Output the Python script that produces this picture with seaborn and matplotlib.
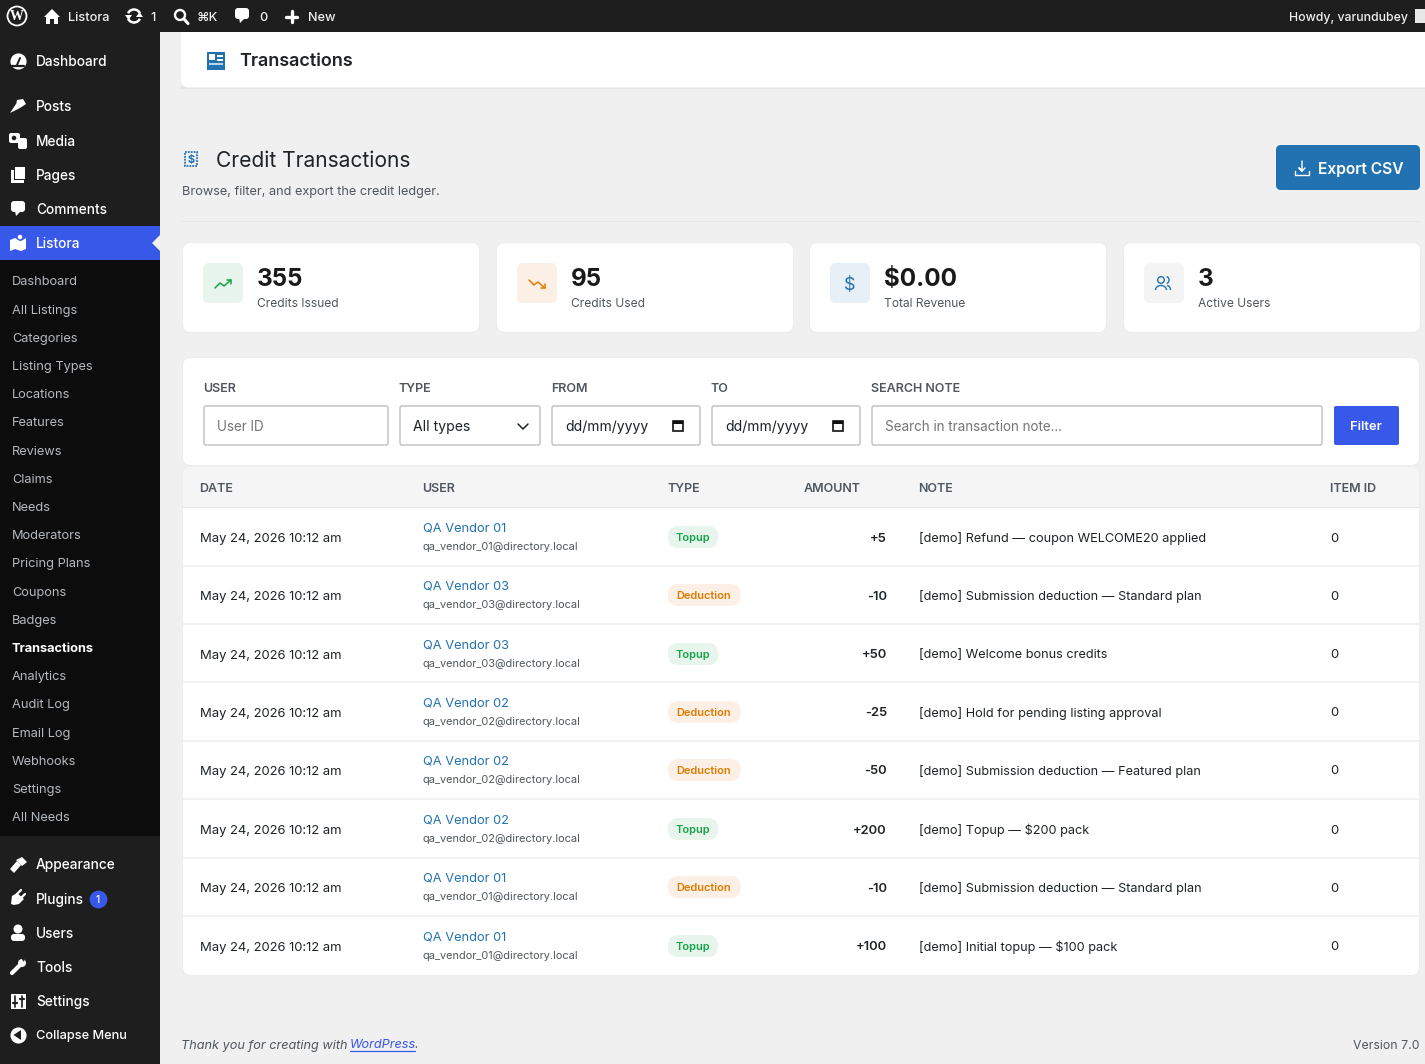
import matplotlib.pyplot as plt
import seaborn as sns
import pandas as pd
from matplotlib.patches import FancyBboxPatch, Circle, Polygon, Rectangle, Arc

# page content
top_items = ['Dashboard', 'Posts', 'Media', 'Pages', 'Comments', 'Listora']
top_ys = [61, 106, 141, 175, 209, 243]
sub_items = ['Dashboard', 'All Listings', 'Categories', 'Listing Types', 'Locations', 'Features',
             'Reviews', 'Claims', 'Needs', 'Moderators', 'Pricing Plans', 'Coupons', 'Badges',
             'Transactions', 'Analytics', 'Audit Log', 'Email Log', 'Webhooks', 'Settings', 'All Needs']
sub_ys = [281, 310, 338, 366, 394, 422, 451, 479, 507, 535, 563, 592, 620, 648, 676, 704, 733, 761, 789, 817]
bottom_items = ['Appearance', 'Plugins', 'Users', 'Tools', 'Settings', 'Collapse Menu']
bottom_ys = [864, 899, 933, 967, 1001, 1035]

card_values = ['355', '95', '$0.00', '3']
card_labels = ['Credits Issued', 'Credits Used', 'Total Revenue', 'Active Users']
card_x = [183, 497, 810, 1124]
card_tints = ['#e8f5ec', '#fcf0e6', '#e8f0f7', '#f4f4f5']

filter_labels = ['USER', 'TYPE', 'FROM', 'TO', 'SEARCH NOTE']
filter_text = ['User ID', 'All types', 'dd/mm/yyyy', 'dd/mm/yyyy', 'Search in transaction note...']
filter_left = [204, 400, 552, 712, 872]
filter_right = [388, 540, 700, 860, 1322]

headers = ['DATE', 'USER', 'TYPE', 'AMOUNT', 'NOTE', 'ITEM ID']
header_x = [200, 423, 668, 804, 919, 1331]
date_text = 'May 24, 2026 10:12 am'
vendors = ['01', '03', '03', '02', '02', '02', '01', '01']
tx_types = ['Topup', 'Deduction', 'Topup', 'Deduction', 'Deduction', 'Topup', 'Deduction', 'Topup']
amounts = [5, -10, 50, -25, -50, 200, -10, 100]
notes = ['[demo] Refund — coupon WELCOME20 applied',
         '[demo] Submission deduction — Standard plan',
         '[demo] Welcome bonus credits',
         '[demo] Hold for pending listing approval',
         '[demo] Submission deduction — Featured plan',
         '[demo] Topup — $200 pack',
         '[demo] Submission deduction — Standard plan',
         '[demo] Initial topup — $100 pack']
item_ids = [0, 0, 0, 0, 0, 0, 0, 0]
row_ys = [537, 595, 654, 712, 770, 829, 887, 946]
row_lines = [566, 624, 682, 741, 799, 858, 916]

BAR = '#1e1e1e'
ACCENT = '#3858e9'
BLUE = '#2271b1'
INK = '#1d2327'
GREY = '#50575e'
GREEN = '#16a34a'
ORANGE = '#e07b00'

sns.set_theme(style='white')
plt.rcParams['font.family'] = ['Inter', 'DejaVu Sans']

fig = plt.figure(figsize=(14.25, 10.64), dpi=100, facecolor='#f0f0f1')
ax = fig.add_axes([0, 0, 1, 1])
ax.set_xlim(0, 1425)
ax.set_ylim(1064, 0)
ax.axis('off')


def text(x, y, s, px=13, color=INK, weight='normal', ha='left', **kw):
    # px sizes as in the browser, figure is 100 dpi
    return ax.text(x, y, s, fontsize=px * 0.72, color=color, fontweight=weight, ha=ha, va='center_baseline', **kw)


def box(x0, y0, x1, y1, color='white', r=6, edge='none', lw=0, z=1):
    ax.add_patch(FancyBboxPatch((x0, y0), x1 - x0, y1 - y0, boxstyle=f'round,pad=0,rounding_size={r}',
                                fc=color, ec=edge, lw=lw, zorder=z))


def rect(x0, y0, x1, y1, color, z=1):
    ax.add_patch(Rectangle((x0, y0), x1 - x0, y1 - y0, fc=color, ec='none', zorder=z))


def poly(points, color='white', z=5):
    ax.add_patch(Polygon(points, closed=True, fc=color, ec='none', zorder=z))


def stroke(xs, ys, color='white', lw=1.5, z=5):
    ax.plot(xs, ys, color=color, lw=lw, zorder=z, solid_capstyle='round', solid_joinstyle='round')


def bubble(cx, cy, color='white'):
    box(cx - 7, cy - 7, cx + 7, cy + 4, color, r=3, z=5)
    poly([(cx - 3, cy + 3), (cx + 3, cy + 3), (cx - 2, cy + 8)], color)


# frame
rect(0, 0, 160, 1064, BAR)
rect(0, 260, 160, 836, '#0c0c0c')
rect(0, 226, 160, 260, ACCENT)
poly([(160, 235), (152, 243), (160, 251)], '#f0f0f1')
rect(0, 0, 1425, 32, BAR, z=3)

# top bar
ax.add_patch(Circle((17, 16), 9.5, fc='none', ec='white', lw=1.3, zorder=5))
ax.text(17, 16.5, 'W', fontsize=10, color='white', family='Liberation Serif', fontweight='bold',
        ha='center', va='center', zorder=6)
poly([(44, 17), (52, 9), (60, 17), (58, 17), (58, 24), (54, 24), (54, 19), (50, 19), (50, 24), (46, 24), (46, 17)])
ax.add_patch(Arc((134, 16), 13, 13, theta1=25, theta2=155, ec='white', lw=1.8, zorder=5))
ax.add_patch(Arc((134, 16), 13, 13, theta1=205, theta2=335, ec='white', lw=1.8, zorder=5))
poly([(125, 15), (132, 15), (128.5, 20)])
poly([(136, 17), (143, 17), (139.5, 12)])
ax.add_patch(Circle((180, 15), 5, fc='none', ec='white', lw=1.7, zorder=5))
stroke([184, 188], [19, 23.5], lw=2.2)
bubble(242, 15)
stroke([292, 292], [11, 22], lw=2.4)
stroke([286.5, 297.5], [16.5, 16.5], lw=2.4)
text(68, 16.5, 'Listora', 12.7, '#f0f0f1', 'medium', zorder=6)
text(150, 16.5, '1', 12.7, '#f0f0f1', 'medium', zorder=6)
text(197, 16.5, '⌘K', 12.7, '#f0f0f1', 'medium', zorder=6)
text(259, 16.5, '0', 12.7, '#f0f0f1', 'medium', zorder=6)
text(308, 16.5, 'New', 12.7, '#f0f0f1', 'medium', zorder=6)
text(1408, 16.5, 'Howdy, varundubey', 12.3, '#f0f0f1', 'medium', ha='right', zorder=6)
rect(1415, 9, 1425, 23, '#e8e8e8', z=5)

# side menu
for name, y in zip(top_items + bottom_items, top_ys + bottom_ys):
    px = 12.8 if name == 'Collapse Menu' else 13.7
    text(36, y - 0.5, name, px, 'white', 'medium', zorder=6)
for name, y in zip(sub_items, sub_ys):
    current = name == 'Transactions'
    text(12, y - 0.7, name, 12.8, 'white' if current else '#b4b9be', 'bold' if current else 'normal', zorder=6)

# menu icons, round ones go through seaborn
round_icons = pd.DataFrame({'x': [18, 18], 'y': [61, 1035]})
sns.scatterplot(data=round_icons, x='x', y='y', s=135, color='white', linewidth=0, ax=ax, zorder=5, legend=False)
sns.scatterplot(x=[98], y=[899], s=165, color=ACCENT, linewidth=0, ax=ax, zorder=5, legend=False)
text(98, 899, '1', 10, 'white', 'medium', ha='center', zorder=6)
poly([(21, 1030), (21, 1040), (13.5, 1035)], BAR, z=6)
stroke([17, 20], [65, 58], BAR, 1.4, z=6)
stroke([12, 24], [66, 66], BAR, 1.6, z=6)
poly([(10, 113), (16, 104), (20, 108)])
poly([(17, 100), (23, 99), (26, 104), (20, 108), (16, 105)])
box(9, 133, 20, 143, 'white', r=2, z=5)
box(18, 138, 27, 149, 'white', r=2, z=5)
ax.add_patch(Circle((14, 138), 2.3, fc=BAR, ec='none', zorder=6))
rect(11, 170, 24, 183, 'white', z=5)
rect(14, 167, 25, 180, BAR, z=5)
rect(15, 167, 25, 179, 'white', z=6)
bubble(18, 208)
poly([(10, 240), (15, 238), (21, 241), (26, 238), (26, 249), (21, 251), (15, 249), (10, 251)], z=5)
ax.add_patch(Circle((20, 237), 3, fc='white', ec=ACCENT, lw=1, zorder=6))
poly([(10, 869), (17, 861), (21, 865), (14, 873)])
poly([(16, 860), (22, 857), (27, 862), (22, 866)])
poly([(11, 904), (12, 896), (17, 893), (24, 899), (19, 904), (14, 905)])
stroke([17, 21], [894, 890], lw=1.6)
stroke([21, 25], [898, 894], lw=1.6)
ax.add_patch(Circle((18, 929), 4.5, fc='white', ec='none', zorder=5))
box(11, 934, 25, 941, 'white', r=3, z=5)
stroke([12, 22], [973, 963], lw=3)
ax.add_patch(Circle((22, 963), 4, fc='white', ec='none', zorder=5))
poly([(21, 958), (25, 957), (24, 962)], BAR, z=6)
rect(11, 994, 26, 1009, 'white', z=5)
for sx, sy in zip([15, 22], [1003, 999]):
    stroke([sx, sx], [996, 1007], BAR, 1.2, z=6)
    stroke([sx - 2, sx + 2], [sy, sy], BAR, 1.6, z=6)

# page head
rect(181, 86, 1425, 89, '#e4e5e7', z=1)
box(181, 25, 1440, 87.5, 'white', r=8, z=2)
rect(207, 52, 225, 70, BLUE, z=4)
rect(209, 54, 215, 60, 'white', z=5)
rect(217, 55, 223, 57, 'white', z=5)
rect(217, 59, 223, 61, 'white', z=5)
rect(209, 63, 223, 65, '#bcd5ea', z=5)
text(239, 60, 'Transactions', 18, INK, 'semibold', zorder=6)

ax.add_patch(Rectangle((185, 152), 12, 14, fc='none', ec=BLUE, lw=1.3, ls=(0, (1, 0.6)), zorder=4))
text(191, 159, '$', 11, BLUE, 'bold', ha='center', zorder=5)
text(216, 159, 'Credit Transactions', 21, INK)
text(182, 191, 'Browse, filter, and export the credit ledger.', 12.7, GREY)
box(1276, 145, 1420, 190, BLUE, r=5, z=2)
text(1318, 168, 'Export CSV', 15.6, 'white', 'semibold', zorder=4)
stroke([1302, 1302, 1299, 1302, 1305], [161, 171, 168, 171, 168], lw=1)
stroke([1295, 1295, 1309, 1309], [171, 175, 175, 171], lw=1)
rect(182, 221, 1420, 222, '#e6e7e9')

# stat cards
for x, value, label, tint in zip(card_x, card_values, card_labels, card_tints):
    box(x - 1, 242, x + 297, 333, '#ebedef', r=8, z=1)
    box(x, 243, x + 296, 332, 'white', r=8, z=2)
    box(x + 20, 263, x + 60, 303, tint, r=6, z=3)
    text(x + 74, 277, value, 24.2, '#1a1a1a', 'bold', zorder=4)
    text(x + 74, 302.5, label, 12, GREY, zorder=4)
stroke([215, 220, 224, 231], [288, 283, 286, 280], GREEN, 1.1)
stroke([227, 231, 231], [280, 280, 284], GREEN, 1.1)
stroke([529, 534, 538, 545], [280, 285, 282, 288], ORANGE, 1.1)
stroke([541, 545, 545], [288, 288, 284], ORANGE, 1.1)
text(850, 283, '$', 18, BLUE, ha='center', zorder=5)
ax.add_patch(Circle((1161, 280), 3.3, fc='none', ec=BLUE, lw=1, zorder=5))
ax.add_patch(Arc((1161, 290), 11, 9, theta1=180, theta2=360, ec=BLUE, lw=1, zorder=5))
ax.add_patch(Arc((1166, 280), 6, 7, theta1=-80, theta2=80, ec=BLUE, lw=1, zorder=5))
ax.add_patch(Arc((1167, 290), 7, 9, theta1=270, theta2=360, ec=BLUE, lw=1, zorder=5))

# filters
box(182, 357, 1420, 466, '#ebedef', r=8, z=1)
box(183, 358, 1419, 465, 'white', r=8, z=2)
for label, value, x0, x1 in zip(filter_labels, filter_text, filter_left, filter_right):
    text(x0 - 1, 388, label, 12.5, GREY, 'semibold', zorder=4)
    box(x0, 406, x1, 445, 'white', r=2, edge='#bdbdbd', lw=1, z=3)
    placeholder = value in ('User ID', 'Search in transaction note...')
    text(x0 + 13, 425.5, value, 13.5 if placeholder else 14, '#757575' if placeholder else INK, zorder=4)
stroke([518, 523, 528], [424, 429, 424], INK, 1.1)
for x in [678, 838]:
    ax.add_patch(Rectangle((x - 5, 421), 10, 10, fc='none', ec='#111111', lw=1.2, zorder=4))
    rect(x - 5, 421, x + 5, 423.5, '#111111', z=4)
box(1334, 406, 1399, 445, ACCENT, r=2, z=3)
text(1366, 425.5, 'Filter', 13, 'white', 'semibold', ha='center', zorder=4)

# table
box(182, 466, 1420, 976, '#ebedef', r=8, z=1)
box(183, 467, 1419, 975, 'white', r=8, z=2)
box(183, 467, 1419, 490, '#f5f5f6', r=8, z=3)
rect(183, 480, 1419, 507, '#f5f5f6', z=3)
rect(183, 507, 1419, 508, '#e2e4e7', z=4)
for y in row_lines:
    rect(183, y - 1, 1419, y + 1, '#f2f2f4', z=3)
for name, x in zip(headers, header_x):
    text(x - 0.5, 488, name, 12.5, GREY, 'semibold', zorder=5)

for y, vendor, kind, amount, note, item in zip(row_ys, vendors, tx_types, amounts, notes, item_ids):
    text(200, y + 0.3, date_text, 13, INK, zorder=5)
    text(423, y - 9.7, f'QA Vendor {vendor}', 12.8, BLUE, zorder=5)
    text(423, y + 9.3, f'qa_vendor_{vendor}@directory.local', 11, GREY, zorder=5)
    is_topup = kind == 'Topup'
    box(668, y - 11, 718 if is_topup else 740.5, y + 11, '#e8f5ec' if is_topup else '#fcf0e6', r=10, z=4)
    text(676, y - 0.3, kind, 11, GREEN if is_topup else ORANGE, 'semibold', zorder=5)
    text(887, y, f'{amount:+d}', 13, INK, 'semibold', ha='right', zorder=5)
    text(919, y, note, 12.7, INK, zorder=5)
    text(1330.5, y, str(item), 13, INK, zorder=5)

# footer
text(181, 1044, 'Thank you for creating with', 12.7, GREY, style='italic')
text(350, 1044, 'WordPress', 12.7, ACCENT, style='italic')
stroke([350, 415], [1050.5, 1050.5], ACCENT, 0.9)
text(415, 1044, '.', 12.7, GREY, style='italic')
text(1420, 1044.5, 'Version 7.0', 12.3, GREY, ha='right')

fig.savefig('out.png', dpi=100, facecolor=fig.get_facecolor())
